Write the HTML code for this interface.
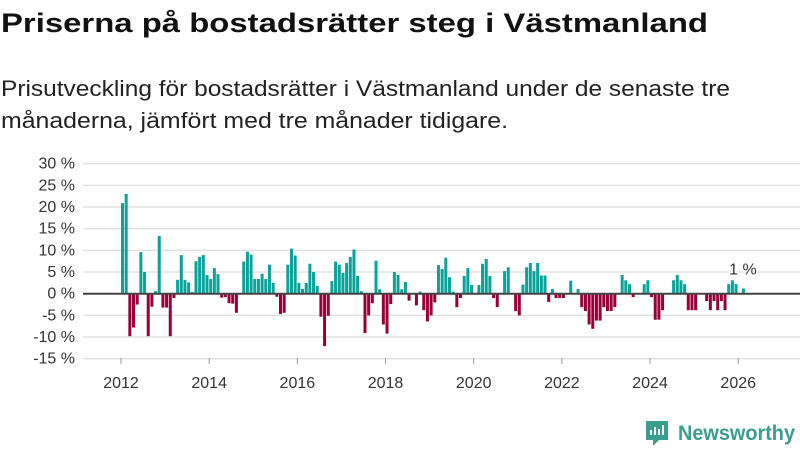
<!DOCTYPE html>
<html><head><meta charset="utf-8"><style>
body{margin:0;width:800px;height:450px;background:#fff;font-family:"Liberation Sans","DejaVu Sans",sans-serif;overflow:hidden;position:relative}
svg{position:absolute;left:0;top:0}
</style></head><body>
<svg id="chart" width="800" height="450">
<text x="1" y="32" font-size="27" font-weight="bold" fill="#111" textLength="707" lengthAdjust="spacingAndGlyphs">Priserna på bostadsrätter steg i Västmanland</text>
<text x="1" y="96" font-size="22" fill="#222" textLength="729" lengthAdjust="spacingAndGlyphs">Prisutveckling för bostadsrätter i Västmanland under de senaste tre</text>
<text x="1" y="128" font-size="22" fill="#222" textLength="507" lengthAdjust="spacingAndGlyphs">månaderna, jämfört med tre månader tidigare.</text>
</svg>
<script>
const values = [20.9,23,-9.8,-7.8,-2.5,9.6,5,-9.8,-3,0.6,13.3,-3.2,-3.2,-9.8,-1,3.2,8.9,3.2,2.6,0.4,7.5,8.5,8.9,4.3,3.4,5.9,4.5,-0.9,-0.8,-2.2,-2.3,-4.4,0,
7.4,9.7,9.0,3.4,3.4,4.6,3.4,6.7,2.5,-0.7,-4.7,-4.4,6.7,10.4,8.8,2.5,1.1,2.5,6.9,5.0,1.8,-5.3,-12.1,-5.1,2.9,7.4,6.7,4.8,7.1,8.5,10.2,4.1,0.6,-9.1,-5,
-2.2,7.6,1.0,-7.1,-9.2,-2.4,5.0,4.3,1.0,2.7,-1.6,0,-2.7,0.5,-3.8,-6.4,-5,-2,6.6,5.7,8.3,3.8,0.5,-3.1,-1,4.1,5.9,2,0,2,6.9,8,4.1,-1,
-3.1,0,5.2,6.1,0,-4,-5,2.1,6.1,7.1,5.2,7.1,4.2,4.2,-1.9,1.1,-1,-1,-1,0,3,0,1.1,-3.1,-4,-7.1,-8.1,-6.2,-6.2,-3.1,-4,-4,-3.1,
0,4.3,3.1,2.2,-0.8,0,0,2.2,3.1,-0.8,-6,-6,-3.8,0,0,3.1,4.3,3.1,2.2,-3.8,-3.8,-3.8,0,0,-1.7,-3.8,-1.7,-3.8,-1.7,-3.8,2.2,3.1,2.2,0,1.2];
const startYear = 2012;
const yTicks = [30,25,20,15,10,5,0,-5,-10,-15];
const xTicks = [2012,2014,2016,2018,2020,2022,2024,2026];
const lastLabel = "1 %";

const NS="http://www.w3.org/2000/svg";
const svg=document.getElementById('chart');
const y=v=>293.7-v*4.335;
const x=i=>121+i*3.674;
const xYear=yr=>x((yr-startYear)*12);
function mk(t,a){const e=document.createElementNS(NS,t);for(const k in a)e.setAttribute(k,a[k]);svg.appendChild(e);return e;}
yTicks.forEach(t=>{
  if(t!==0){const g=mk('line',{x1:83,x2:800,y1:y(t),y2:y(t),stroke:'#e2e2e2','stroke-width':1.5});
  
  }
  const l=mk('text',{x:75,y:y(t)+5,'text-anchor':'end','font-size':16,fill:'#333'});
  l.textContent=t+' %';
  
  
});
values.forEach((v,i)=>{
  if(v===0)return;
  const r=mk('rect',{x:x(i),y:v>0?y(v):y(0),width:3,height:Math.abs(y(v)-y(0)),fill:v>0?'#0aa39a':'#990038'});
  
  
});
const z=mk('line',{x1:83,x2:800,y1:y(0),y2:y(0),stroke:'#444','stroke-width':2});


xTicks.forEach(t=>{
  const tk=mk('line',{x1:xYear(t),x2:xYear(t),y1:358,y2:364,stroke:'#999','stroke-width':1});
  
  
  const l=mk('text',{x:xYear(t),y:388,'text-anchor':'middle','font-size':16,fill:'#333'});
  l.textContent=t;
  
  
});
const li=values.length-1;
const ll=mk('text',{x:x(li)+1,y:y(values[li])-14,'text-anchor':'middle','font-size':16,fill:'#333',stroke:'#fff','stroke-width':3,'paint-order':'stroke'});
ll.textContent=lastLabel;


</script>
<svg width="160" height="30" style="left:644px;top:419px">
<path d="M2 2h22v19h-9l-6 6v-6H2z" fill="#3a9e8f"/><path d="M7 16v-5M11 16V8M15 16v-6M19 16V6" stroke="#fff" stroke-width="2"/>
<text x="34" y="21" font-size="21" font-weight="bold" fill="#3a9e8f" textLength="117" lengthAdjust="spacingAndGlyphs">Newsworthy</text>
</svg>
</body></html>
